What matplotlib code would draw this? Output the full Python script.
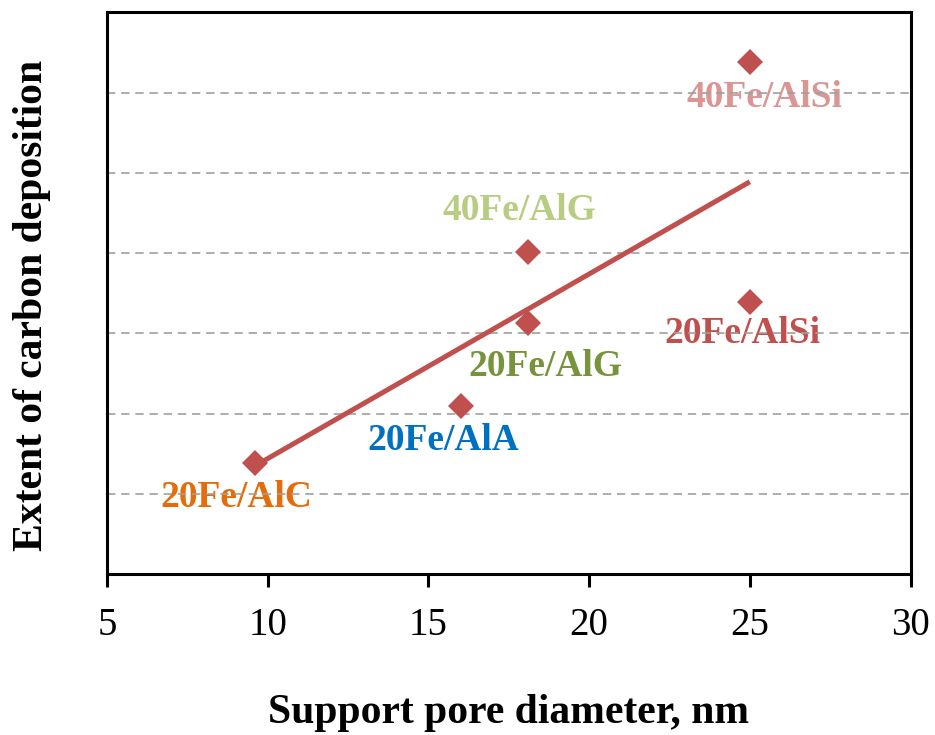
import numpy as np
import matplotlib
matplotlib.use('Agg')
import matplotlib.pyplot as plt

# Данные
pore_diameter = [9.6, 16.0, 18.1, 18.1, 25.0, 25.0]
carbon_deposition = [1.39, 2.10, 3.13, 4.01, 3.39, 6.38]

# Линия тренда (концы)
trend_x = [9.7, 25.0]
trend_y = [1.37, 4.89]

# Подписи образцов
sample_names = ['20Fe/AlC', '20Fe/AlA', '20Fe/AlG', '40Fe/AlG', '20Fe/AlSi', '40Fe/AlSi']
label_x = [9.01, 15.45, 18.65, 17.84, 24.78, 25.46]
label_y = [0.95, 1.67, 2.59, 4.53, 3.00, 5.94]
label_colors = ['#E46C0A', '#0070C0', '#77933C', '#B8CC82', '#C0504D', '#D99694']

x_ticks = [5, 10, 15, 20, 25, 30]

plt.rcParams['font.family'] = ['Liberation Serif', 'DejaVu Serif']

fig = plt.figure(figsize=(9.35, 7.35), dpi=100)
ax = fig.add_axes([0.1144, 0.219, 0.8594, 0.764])

# Линия тренда и точки
ax.plot(trend_x, trend_y, color='#C0504D', linewidth=3.6, solid_capstyle='butt', zorder=3)
ax.plot(pore_diameter, carbon_deposition, linestyle='none', marker='D', markersize=13.5,
        color='#C0504D', markeredgewidth=0, zorder=4)

# Подписи
for name, lx, ly, c in zip(sample_names, label_x, label_y, label_colors):
    ax.text(lx, ly, name, color=c, fontsize=27, fontweight='bold',
            ha='center', va='center', zorder=1)

# Настройки осей
ax.set_xlim(5, 30)
ax.set_ylim(0, 7)
ax.set_xticks(x_ticks)
ax.set_yticks(np.arange(0, 8, 1))
ax.set_yticklabels([])
ax.tick_params(axis='y', length=0)
ax.tick_params(axis='x', direction='out', length=9.5, width=2.2, labelsize=28, pad=14)
ax.yaxis.grid(True, color='#A0A0A0', linestyle=(0, (5, 3.5)), linewidth=1.2)
for s in ax.spines.values():
    s.set_linewidth(2.2)

ax.set_xlabel('Support pore diameter, nm', fontsize=30, fontweight='bold', labelpad=36)
ax.set_ylabel('Extent of carbon deposition', fontsize=30, fontweight='bold')
ax.yaxis.set_label_coords(-0.07, 0.479)

fig.savefig('out.png', dpi=100)
